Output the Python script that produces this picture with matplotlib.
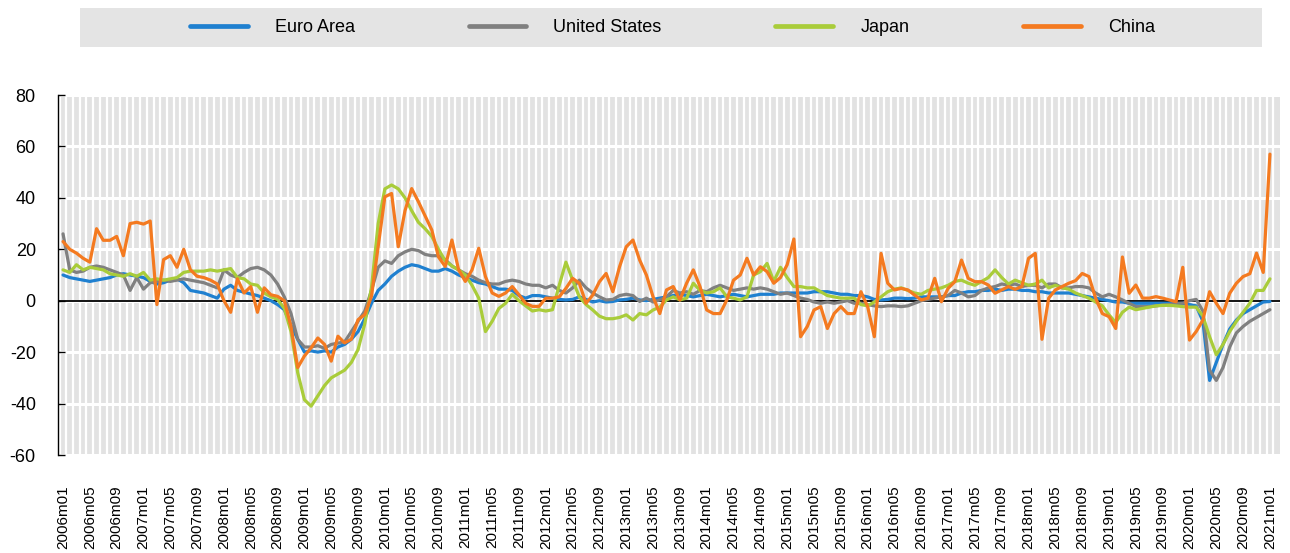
import matplotlib
matplotlib.use('Agg')
import matplotlib.pyplot as plt
from matplotlib.patches import Rectangle
from matplotlib.ticker import FixedLocator
import numpy as np

months = [f"{y}m{m:02d}" for y in range(2006, 2022) for m in range(1, 13)][:181]

euro = [10, 9, 8.5, 8, 7.5, 8, 8.5, 9, 10, 10.5, 10, 9.5,
        9, 7.5, 6.5, 7, 8, 8.5, 7, 4, 3.5, 3, 2, 1,
        4.5, 6, 4, 3.3, 2.6, 2, 1, 0, -1.5, -3.5, -9.5, -15,
        -20, -19.5, -20, -19.5, -20, -18, -17, -15, -12, -7, -1, 4,
        6.5, 9.5, 11.5, 13, 14, 13.5, 12.5, 11.5, 11.5, 12.5, 11.5, 10,
        9, 8, 7, 6.5, 5.5, 4.5, 4.5, 4, 2, 1, 2, 2,
        1.5, 1, 0.5, 0.3, 0.5, 1.5, 0.5, -0.5, 0, -0.5, -0.3, 0.3,
        0.5, 1, 0.3, 0, 0.5, 1, 1.5, 2, 2.5, 2, 1.5, 2,
        2.5, 2, 1.5, 2, 2.5, 2, 1.5, 2, 2.5, 2.5, 2.5, 3,
        3, 3, 3, 3, 3.5, 3.5, 3.5, 3, 2.5, 2.5, 2, 2,
        1.5, 0.5, 0.3, 0.5, 1, 1, 0.8, 1, 1.5, 1.5, 1.5, 1.5,
        2, 2, 3, 3.5, 3.5, 4, 4, 4.5, 4, 4.5, 4.5, 4,
        4, 3.5, 3.5, 3, 3, 3, 3, 2.5, 2, 1.5, 1, 0.5,
        0, -0.5, -0.5, -1, -1, -1, -1, -1, -1, -1, -1.2, -1,
        -1.5, -2, -8, -31, -24, -17, -11, -7.5, -5, -3.5, -2, -0.5,
        -0.3]

us = [26, 12, 11, 11.5, 13, 13.5, 13, 12, 11, 10, 4, 9,
      4.5, 7, 7.5, 8, 7.5, 8, 8.5, 8, 7.5, 7, 6, 5,
      12, 10, 9, 11, 12.5, 13, 12, 10, 6.5, 1.5, -5, -15,
      -18, -18, -17.5, -18.5, -17, -16.5, -16, -12, -8, -4, 4, 13,
      15.5, 14.5, 17.5, 19, 20, 19.5, 18, 17.5, 17.5, 16, 13.5, 12,
      10.5, 9.5, 8, 7, 6.5, 6.5, 7.5, 8, 7.5, 6.5, 6, 6,
      5, 6, 4, 3, 5, 8, 5, 3, 1.5, 0.3, 0.5, 2,
      2.5, 2, -0.3, 1, -0.5, 0.3, 1.5, 4, 3, 3.5, 2.5, 4,
      3.5, 5, 6, 5, 4, 4.5, 5, 4.5, 5, 4.5, 3.5, 2.5,
      3, 2, 1, 0.5, -0.5, -1, -0.5, -1, -0.5, 0, -1, -1,
      -1.5, -2, -2.3, -2, -2, -2.3, -2, -1, 0, 0.5, 1, 1.5,
      2, 4, 3, 1.5, 2, 4, 5, 5.5, 6.5, 6, 6.5, 5.5,
      6, 6, 5, 6.5, 6.5, 5, 5, 5.5, 5.5, 5, 3, 1.5,
      2.5, 1.5, 0.3, -1, -2.3, -2.3, -2.3, -2, -1.7, -1.5, -1, -1,
      0, 0.5, -4, -27, -31, -26, -18, -12.5, -10, -8, -6.5, -5,
      -3.5]

japan = [12, 11, 14, 12, 13, 12.5, 12, 10.5, 10, 9.5, 10.5, 9.5,
         11, 8, 8.5, 8, 8.5, 9, 11, 11.5, 11.5, 11.5, 12, 11.5,
         12, 12.5, 9, 8.5, 6.5, 6, 3, 1.5, 0.5, -3, -12, -28,
         -38.5, -41, -37, -33, -30, -28.5, -27, -24, -19, -9, 5, 30,
         43.5, 45, 43.5, 40, 35, 30.5, 28, 25, 20, 15.5, 13.5, 12,
         10, 6, 1, -12, -8, -3, -1, 2.5, 0, -2, -4, -3.5,
         -4, -3.5, 6, 15, 8, 1.5, -1.5, -3.6, -6, -7, -7, -6.5,
         -5.5, -7.5, -5, -5.5, -3.6, -2.5, 0.3, 1.5, 0.3, 1, 6.8, 4,
         3, 3.5, 5, 1.5, 1, 0.3, 1.5, 10, 11.3, 14.5, 7.5, 13,
         9, 5.5, 5.5, 5, 5, 3.5, 2, 1.5, 1, 1, 1, -1.5,
         -2, -0.5, 1.5, 3.5, 4.5, 5, 4, 3, 2.5, 4, 4.5, 5,
         6, 7.5, 8, 6.8, 6, 7.5, 9, 12, 9, 6.5, 8, 7,
         6, 6.5, 8, 5, 6, 5, 4.5, 3, 2, 1, -0.5, -2,
         -5.5, -8.5, -4.5, -2.5, -3.5, -3, -2.5, -2, -1.8, -1.8, -2, -2.3,
         -2.5, -2.5, -6, -14, -21, -17, -12, -8, -4.5, -1, 4, 4,
         8.5]

china = [23, 20, 18.5, 16.5, 15, 28, 23.5, 23.5, 25, 17.5, 30, 30.5,
         29.8, 31, -1.5, 16, 17.5, 13, 20, 12, 9.5, 9, 8, 6.5,
         0, -4.5, 8.5, 3, 5.5, -4.5, 5, 2.3, 1.7, 0, -10, -26,
         -21.5, -18.3, -14.5, -17, -23.5, -13.8, -16.4, -15, -7.4, -5.4, 1.7, 21,
         40.4, 41.7, 21, 35, 43.6, 38.5, 33, 27.5, 17, 13.3, 23.6, 12,
         7.5, 12, 20.4, 9.4, 3, 1.7, 3, 5.5, 2.3, -1, -2.2, -2.2,
         1, 1, 1.5, 4.8, 8.7, 6.8, -1, 2.2, 7.4, 10.6, 3.5, 13.2,
         21, 23.6, 15.8, 10, 1.5, -5, 4.2, 5.5, 0.3, 6.8, 12, 5.5,
         -3.6, -5, -5, 0.3, 8, 10, 16.5, 10, 13.2, 11.3, 6.8, 9,
         14, 24, -14, -10, -3.6, -2.3, -10.8, -5, -2.3, -5, -5, 3.5,
         -2.3, -14, 18.4, 6.8, 4.2, 4.8, 4.2, 2.2, 0.3, 1, 8.7, -0.4,
         4.8, 7.4, 15.8, 8.7, 7.4, 7.4, 6.1, 2.9, 4.2, 5.5, 4.4, 5.5,
         16.5, 18.4, -15, 1, 4.2, 5.5, 6.8, 7.8, 10.6, 9.4, 1, -5,
         -6.2, -10.8, 17, 2.9, 6.1, 1, 1, 1.6, 1, 0.3, -0.4, 13,
         -15.3, -12, -7.5, 3.5, -1, -5, 2.9, 6.8, 9.4, 10.5, 18.5, 11,
         57]

series_names = ["Euro Area", "United States", "Japan", "China"]
series_colors = ["#1f80d0", "#808080", "#a9cc3a", "#f47a20"]
y_ticks = [-60, -40, -20, 0, 20, 40, 60, 80]

plt.rcParams['font.family'] = ['Liberation Sans', 'DejaVu Sans']

W, H = 1290, 553
fig = plt.figure(figsize=(W / 100, H / 100), dpi=100)
ax = fig.add_axes([58 / W, 1 - 455 / H, (1280 - 58) / W, 360 / H])
ax.set_facecolor('#e2e2e2')

x = np.arange(len(months))
handles = []
for vals, name, c in zip([euro, us, japan, china], series_names, series_colors):
    h, = ax.plot(x, vals, color=c, lw=2.3, label=name, zorder=3,
                 solid_joinstyle='round', solid_capstyle='round')
    handles.append(h)

ax.axhline(0, color='black', lw=1.3, zorder=2.5)

ax.set_xlim(-0.75, 181.5)
ax.set_ylim(-60, 80)
ax.set_yticks(y_ticks)
ax.set_yticklabels([str(v) for v in y_ticks])
ax.set_xticks(x[::4])
ax.set_xticklabels(months[::4], rotation=90, fontsize=11)
ax.xaxis.set_minor_locator(FixedLocator(list(x - 0.5) + [x[-1] + 0.5]))

ax.grid(which='minor', axis='x', color='white', lw=1.6, zorder=1)
ax.grid(which='major', axis='y', color='white', lw=2.2, zorder=1)
ax.grid(which='major', axis='x', visible=False)
ax.set_axisbelow(True)

ax.tick_params(axis='y', direction='in', length=5, width=1, labelsize=13,
               pad=16, colors='black')
ax.tick_params(axis='x', which='both', length=0, pad=22)
for s in ['top', 'right', 'bottom']:
    ax.spines[s].set_visible(False)
ax.spines['left'].set_color('black')
ax.spines['left'].set_linewidth(1)

fig.add_artist(Rectangle((80 / W, 1 - 47 / H), (1262 - 80) / W, 39 / H,
                         transform=fig.transFigure, facecolor='#e4e4e4',
                         edgecolor='none', zorder=0))
leg = fig.legend(handles, series_names, loc='center left',
                 bbox_to_anchor=(190 / W, 1 - 27.5 / H), ncol=4, frameon=False,
                 fontsize=13, handlelength=3.2, handletextpad=1.5,
                 columnspacing=6.3, borderpad=0, borderaxespad=0)
for lh in leg.get_lines():
    lh.set_linewidth(3.4)

fig.savefig('out.png', dpi=100)
